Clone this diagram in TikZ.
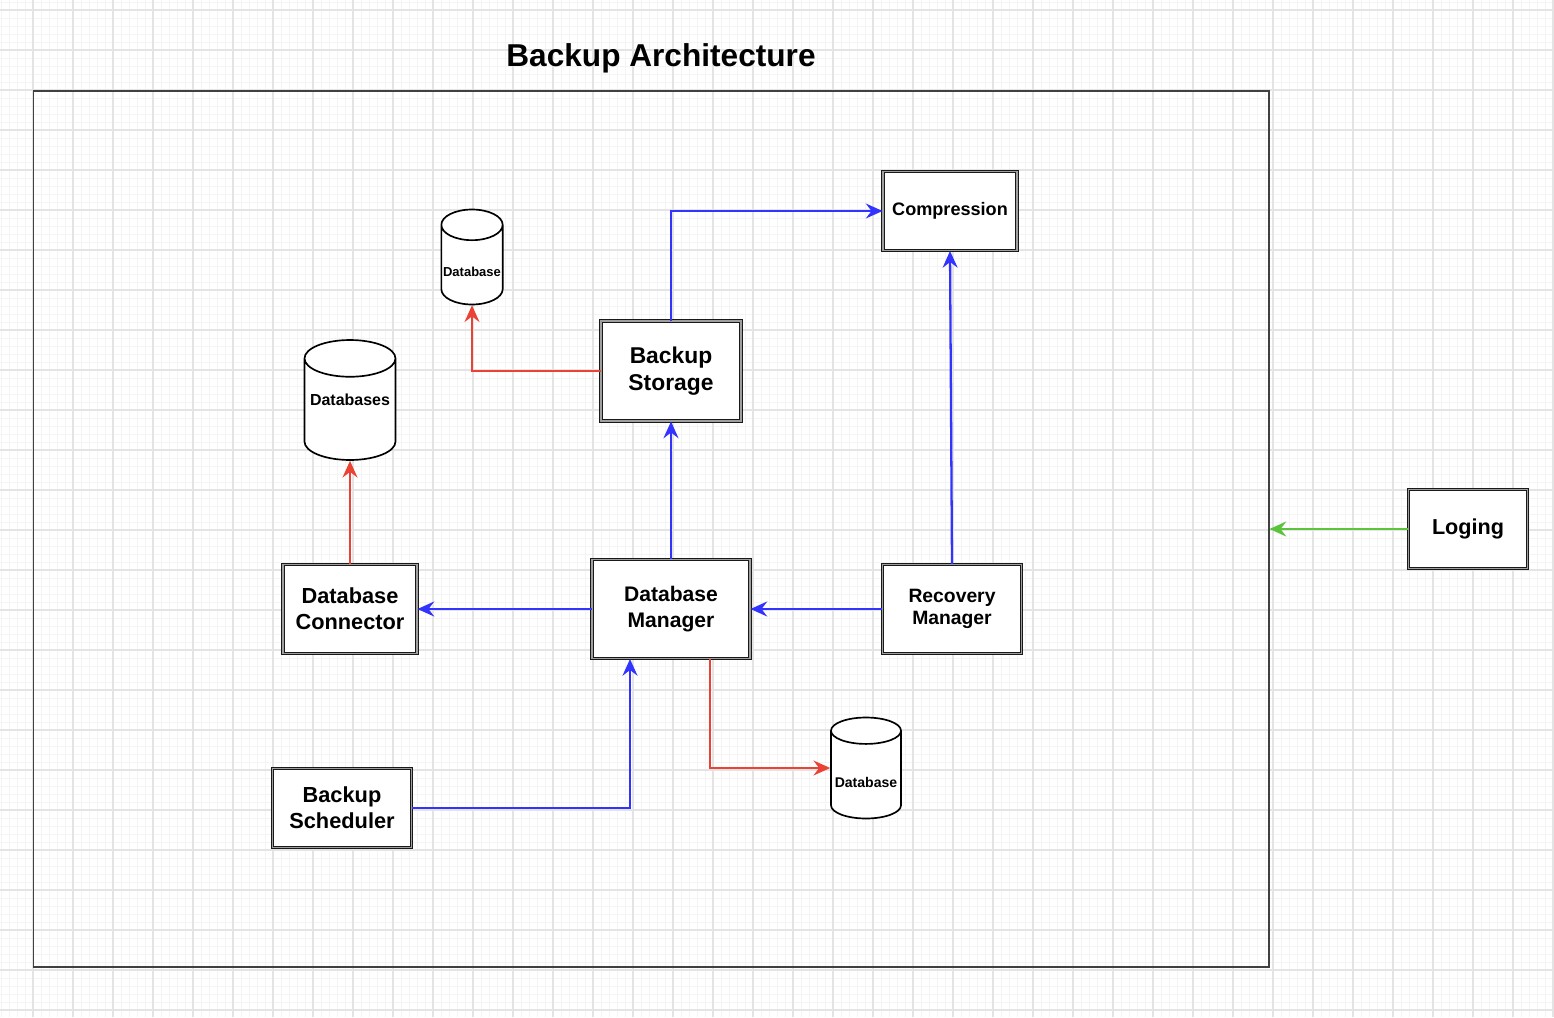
\documentclass[tikz,border=0pt]{standalone}
\usepackage{fontspec}
\setmainfont{Liberation Sans}
\usepackage{tikz}
\usetikzlibrary{shapes, arrows.meta}
\definecolor{flowblue}{RGB}{51, 51, 255}
\definecolor{flowred}{RGB}{234, 67, 53}
\definecolor{flowgreen}{RGB}{92, 196, 60}
\definecolor{gridfine}{RGB}{244, 244, 244}
\definecolor{gridcoarse}{RGB}{228, 228, 228}
\tikzset{
    block/.style={
        rectangle,
        draw=black!90,
        line width=0.55pt,
        double=gray!75,
        double distance=0.75pt,
        fill=white,
        align=center,
        inner sep=2pt
    },
    dbstore/.style={
        cylinder,
        shape border rotate=90,
        anchor=shape center,
        draw=black,
        line width=0.95pt,
        fill=white,
        align=center,
        inner sep=1pt
    },
    frame/.style={rectangle, draw=black!75, line width=0.7pt, inner sep=0pt},
    flowtip/.style={-{Stealth[length=9.5pt, width=8.5pt, inset=3.2pt]}},
    blueline/.style={draw, flowtip, line width=1.3pt, flowblue},
    redline/.style={draw, flowtip, line width=1.3pt, flowred},
    greenline/.style={draw, flowtip, line width=1.3pt, flowgreen}
}
\begin{document}
\begin{tikzpicture}[x=0.02cm, y=-0.02cm]

    \useasboundingbox (0,0) rectangle (1554,1017);

    % Grid
    \foreach \gx in {1,9,...,1553} \draw[gridfine, line width=0.5pt] (\gx,0) -- (\gx,1017);
    \foreach \gy in {2,10,...,1017} \draw[gridfine, line width=0.5pt] (0,\gy) -- (1554,\gy);
    \foreach \gx in {33,73,...,1553} \draw[gridcoarse, line width=0.8pt] (\gx,0) -- (\gx,1017);
    \foreach \gy in {10,50,...,1017} \draw[gridcoarse, line width=0.8pt] (0,\gy) -- (1554,\gy);

    % Nodes
    \node[frame, minimum width=24.72cm, minimum height=17.52cm] (frame) at (651,529) {};
    \node[font=\bfseries\fontsize{18}{22}\selectfont] (title) at (661,58) {Backup Architecture};

    \node[block, minimum width=2.68cm, minimum height=1.58cm, font=\bfseries\fontsize{10.3}{12}\selectfont] (comp) at (950,211) {Compression};
    \node[block, minimum width=2.8cm, minimum height=2cm, font=\bfseries\fontsize{13}{15.5}\selectfont] (store) at (671,371) {Backup\\Storage};
    \node[block, minimum width=3.16cm, minimum height=1.98cm, font=\bfseries\fontsize{12}{14.5}\selectfont] (dbman) at (671,609) {Database\\Manager};
    \node[block, minimum width=2.68cm, minimum height=1.78cm, font=\bfseries\fontsize{12.4}{15}\selectfont] (dbconn) at (350,609) {Database\\Connector};
    \node[block, minimum width=2.78cm, minimum height=1.78cm, font=\bfseries\fontsize{11}{12.8}\selectfont] (recov) at (952,609) {Recovery\\Manager};
    \node[block, minimum width=2.78cm, minimum height=1.58cm, font=\bfseries\fontsize{12.4}{14.8}\selectfont] (sched) at (342,808) {Backup\\Scheduler};
    \node[block, minimum width=2.38cm, minimum height=1.58cm, font=\bfseries\fontsize{12.3}{14}\selectfont] (log) at (1468,529) {Loging};

    % text depth / height shift the labels inside the cylinders
    \node[dbstore, aspect=0.44, minimum width=1.82cm, minimum height=2.4cm, text height=6.6pt, text depth=13.6pt, font=\bfseries\fontsize{9.1}{11}\selectfont] (dbs) at (350,400) {Databases};
    \node[dbstore, aspect=0.5, minimum width=1.2cm, minimum height=1.9cm, text height=10pt, text depth=0pt, font=\bfseries\fontsize{7.4}{9}\selectfont] (dbtop) at (472,257) {Database};
    \node[dbstore, aspect=0.4, minimum width=1.4cm, minimum height=2.02cm, text height=11.5pt, text depth=0pt, font=\bfseries\fontsize{8}{10}\selectfont] (dblow) at (866,768) {Database};

    % Connections
    \path[blueline] (store.north) |- (comp.west);
    \path[blueline] (recov.north) -- (comp.south);
    \path[blueline] (dbman.north) -- (store.south);
    \path[blueline] (dbman.west) -- (dbman.west -| dbconn.east);
    \path[blueline] (recov.west) -- (recov.west -| dbman.east);
    \path[blueline] (sched.east) -| ([xshift=-0.82cm]dbman.south);

    \path[redline] ([xshift=0.78cm]dbman.south) |- (dblow.shape center -| dblow.west);
    \path[redline] (store.west) -| (dbtop.south);
    \path[redline] (dbconn.north) -- (dbs.south);

    \path[greenline] (log.west) -- (log.west -| frame.east);

\end{tikzpicture}
\end{document}
